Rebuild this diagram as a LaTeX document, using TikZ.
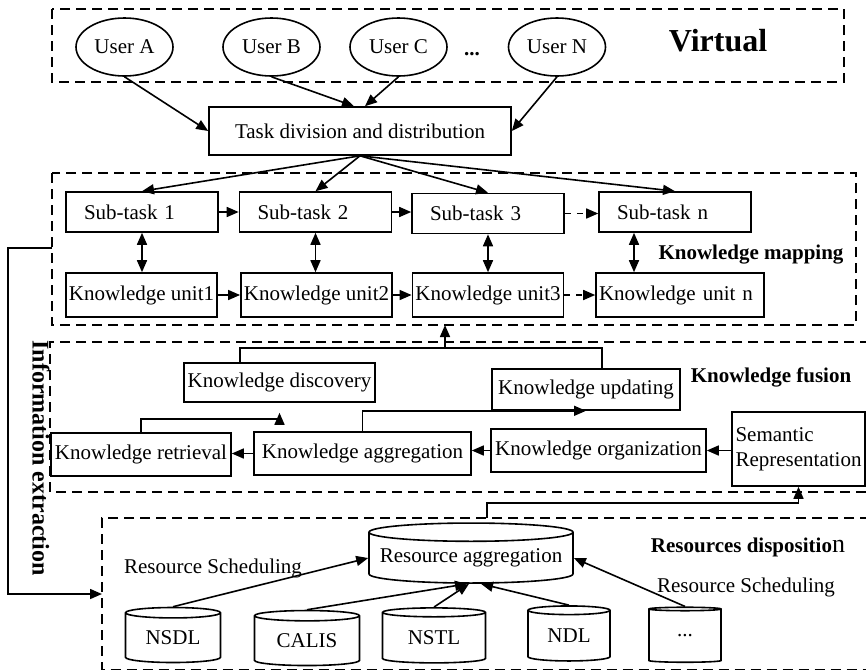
\documentclass[tikz,border=0pt]{standalone}
\usepackage{fontspec}
\setmainfont{Liberation Serif}
\usetikzlibrary{shapes.geometric,arrows.meta}

\begin{document}
\begin{tikzpicture}[x=0.5pt,y=-0.5pt,
    every node/.style={font=\fontsize{10.5}{12.5}\selectfont},
    user/.style={ellipse,draw,line width=0.8pt,minimum width=48.5pt,minimum height=29pt,inner sep=0pt},
    box/.style={rectangle,draw,line width=0.8pt,inner sep=1.5pt},
    sub/.style={box,minimum height=20pt,text width=58pt,inner xsep=9pt,align=left},
    unit/.style={box,minimum height=22pt,minimum width=75.5pt},
    store/.style={cylinder,shape border rotate=90,draw,line width=0.8pt,inner sep=0pt},
    area/.style={dash pattern=on 5pt off 3pt,line width=0.75pt},
    lbl/.style={font=\fontsize{10.5}{12.5}\selectfont\bfseries},
    arr/.style={-{Triangle[length=6pt,width=5pt]},line width=0.8pt},
    dbl/.style={{Triangle[length=6pt,width=5pt]}-{Triangle[length=6pt,width=5pt]},line width=0.8pt}]
        \useasboundingbox (0,0) rectangle (866,671);

        %% Dashed areas
        \draw[area] (52,9) rectangle (844,82);
        \draw[area] (52,173) rectangle (856,325);
        \draw[area] (870,342) -- (50,342) -- (50,492) -- (870,492);
        \draw[area] (870,518) -- (102,518) -- (102,669.5) -- (870,669.5);

        %% Users
        \node[user] (ua) at (124.5,47) {User A};
        \node[user] (ub) at (271.5,47) {User B};
        \node[user] (uc) at (398.5,47) {User C};
        \node[lbl] (udots) at (472,54) {...};
        \node[user] (un) at (557,47) {User N};
        \node[font=\fontsize{16}{19}\selectfont\bfseries] (virt) at (718,41) {Virtual};

        %% Task and sub-tasks
        \node[box,minimum width=151pt,minimum height=24pt] (task) at (360,131) {Task division and distribution};
        \node[sub] (s1) at (142,212) {Sub-task 1};
        \node[sub] (s2) at (315.5,212) {Sub-task 2};
        \node[sub] (s3) at (488,213.5) {Sub-task 3};
        \node[sub] (sn) at (675,212) {Sub-task n};

        %% Knowledge units
        \node[unit] (k1) at (141.5,295) {Knowledge unit1};
        \node[unit] (k2) at (316.5,295) {Knowledge unit2};
        \node[unit] (k3) at (488,295) {Knowledge unit3};
        \node[box,minimum height=22pt,text width=81pt,align=left] (kn) at (680,295) {Knowledge unit n};
        \node[lbl] (kmap) at (751,255) {Knowledge mapping};

        %% Knowledge fusion
        \node[box,minimum width=95.5pt,minimum height=19.5pt] (kdisc) at (279.5,382.5) {Knowledge discovery};
        \node[box,minimum width=94pt,minimum height=20.5pt] (kupd) at (586,389.5) {Knowledge updating};
        \node[box,minimum width=90pt,minimum height=21.5pt] (kret) at (141,454.5) {Knowledge retrieval};
        \node[box,minimum width=108.5pt,minimum height=21.5pt] (kagg) at (362.5,453.5) {Knowledge aggregation};
        \node[box,minimum width=107.5pt,minimum height=21.5pt] (korg) at (598.5,450.5) {Knowledge organization};
        \node[box,minimum width=66.5pt,minimum height=37pt,align=left] (sem) at (798.5,449) {Semantic\\Representation};
        \node[lbl] (kfus) at (771,377) {Knowledge fusion};

        %% Resources
        \node[store,minimum width=102pt,minimum height=30pt,aspect=0.1] (ragg) at (471,558) {Resource aggregation};
        \node[store,minimum width=47.5pt,minimum height=27.5pt,aspect=0.19] (nsdl) at (173,638) {NSDL};
        \node[store,minimum width=52.5pt,minimum height=27.5pt,aspect=0.17] (calis) at (307,641) {CALIS};
        \node[store,minimum width=51.5pt,minimum height=27.5pt,aspect=0.17] (nstl) at (434,638) {NSTL};
        \node[store,minimum width=41pt,minimum height=27.5pt,aspect=0.2] (ndl) at (569,636) {NDL};
        \node[store,minimum width=36pt,minimum height=27.5pt,aspect=0.22] (rdots) at (685,636) {...};
        \node (rsl) at (213,568) {Resource Scheduling};
        \node (rsr) at (746,587) {Resource Scheduling};
        \node[lbl] (rdisp) at (748,547) {Resources dispositio\textmd{\fontsize{13}{14}\selectfont n}};

        %% Users to task, task to sub-tasks
        \draw[arr] (ua.south) -- (task.west);
        \draw[arr] (ub.south) -- ([xshift=-3pt]task.north);
        \draw[arr] (uc.south) -- ([xshift=2.5pt]task.north);
        \draw[arr] (un.south) -- (task.east);
        \foreach \s in {s1,s2,s3,sn}
            \draw[arr] (task.south) -- (\s.north);

        %% Chains
        \draw[arr] (s1.east) -- (s2.west);
        \draw[arr] (s2.east) -- (s2.east -| s3.west);
        \draw[arr,dash pattern=on 3pt off 3pt] (s3.east) -- (s3.east -| sn.west);
        \draw[dbl] (s1.south) -- (s1.south |- k1.north);
        \draw[dbl] (s2.south) -- (s2.south |- k2.north);
        \draw[dbl] (s3.south) -- (s3.south |- k3.north);
        \draw[dbl] ([xshift=-20.5pt]sn.south) -- ([xshift=-20.5pt]sn.south |- kn.north);
        \draw[arr] (k1.east) -- (k2.west);
        \draw[arr] (k2.east) -- (k3.west);
        \draw[arr,dash pattern=on 3pt off 3pt] (k3.east) -- (kn.west);

        %% Information extraction
        \coordinate (ie) at (52,248);
        \coordinate (rw) at (102,594);
        \draw[arr] (ie) -- (8,248) -- (8,594) -- (rw);
        \node[rotate=-90,font=\fontsize{12}{14}\selectfont\bfseries] (iex) at (41,458) {Information extraction};

        %% Fusion links
        \coordinate (tl) at (240,348);
        \coordinate (tr) at (602,348);
        \coordinate (fj) at (445,348);
        \coordinate (mb) at (445,325);
        \draw[line width=0.8pt] (tl |- kdisc.north) -- (tl) -- (tr) -- (tr |- kupd.north);
        \draw[arr] (fj) -- (mb);
        \draw[arr] (sem.west |- korg.east) -- (korg.east);
        \draw[arr] (korg.west) -- (korg.west -| kagg.east);
        \draw[arr] (kagg.west) -- (kagg.west -| kret.east);
        \draw[arr,shorten >=5pt] (kret.north) -- ++(0,-13) -| (kdisc.south);
        \draw[arr] (kagg.north) |- (kupd.south);

        %% Resources links
        \coordinate (rt) at (487,518);
        \draw[arr] (rt) -- ++(0,-15) -| (sem.south);
        \draw[arr] (nsdl.north) -- (ragg.west);
        \draw[arr] (calis.north) -- ([xshift=-2pt]ragg.south);
        \draw[arr] (nstl.north) -- ([xshift=-1pt]ragg.south);
        \draw[arr] (ndl.north) -- ([xshift=5pt]ragg.south);
        \draw[arr] (rdots.north) -- (ragg.east);
    \end{tikzpicture}
\end{document}
